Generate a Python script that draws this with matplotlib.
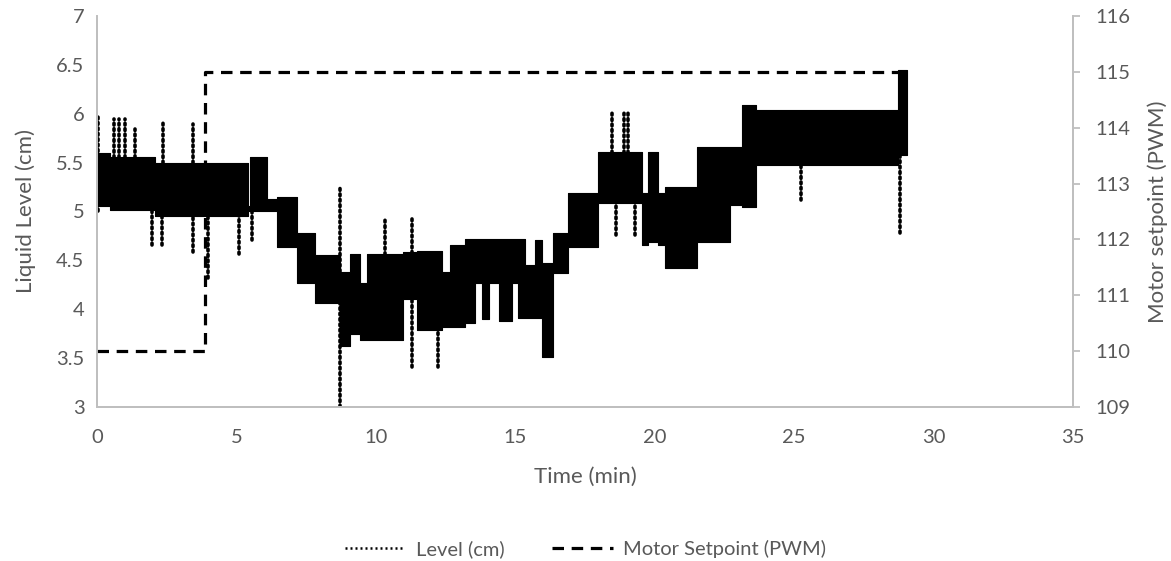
import numpy as np
import matplotlib
matplotlib.use('Agg')
from matplotlib import pyplot as plt
from matplotlib.lines import Line2D

# level band: start time of each segment, lower / upper edge of the band (cm)
level_t = [0.00, 0.47, 2.08, 5.40, 5.50, 6.10, 6.45, 7.17, 7.82, 8.71, 9.07, 9.43,
           9.68, 10.97, 11.47, 12.37, 12.66, 13.20, 13.55, 13.80, 14.05, 14.40, 14.90,
           15.10, 15.35, 15.71, 15.96, 16.35, 16.89, 17.97, 19.54, 19.77, 20.13, 20.37,
           21.52, 22.70, 23.12, 23.65, 28.72, 29.05]
level_lo = [5.06, 5.02, 4.95, 5.00, 5.00, 5.00, 4.64, 4.27, 4.06, 3.62, 3.75, 3.69,
            3.69, 4.10, 3.79, 3.82, 3.82, 3.86, 4.27, 3.90, 4.27, 3.88, 4.27,
            3.91, 3.91, 3.91, 3.51, 4.37, 4.64, 5.09, 4.66, 4.69, 4.66, 4.42,
            4.69, 5.07, 5.05, 5.48, 5.58, 5.58]
level_hi = [5.60, 5.56, 5.50, 5.06, 5.56, 5.13, 5.15, 4.78, 4.55, 4.38, 4.57, 4.27,
            4.57, 4.59, 4.60, 4.38, 4.66, 4.72, 4.72, 4.72, 4.72, 4.72, 4.72,
            4.72, 4.45, 4.71, 4.47, 4.78, 5.19, 5.61, 5.19, 5.61, 5.19, 5.25,
            5.66, 5.66, 6.09, 6.04, 6.45, 6.45]

# isolated level excursions (time, min value, max value)
spike_t = [0.03, 0.60, 0.80, 1.00, 1.36, 2.37, 3.44, 1.96, 2.32, 3.45, 3.98, 5.09,
           5.55, 8.71, 10.33, 11.30, 12.22, 18.46, 18.90, 19.04, 18.60, 19.30, 25.23, 28.80]
spike_lo = [5.00, 5.50, 5.50, 5.50, 5.50, 5.50, 5.50, 4.66, 4.66, 4.59, 4.32, 4.57,
            4.71, 3.00, 4.50, 3.41, 3.41, 5.60, 5.60, 5.60, 4.76, 4.76, 5.12, 4.78]
spike_hi = [6.00, 5.95, 5.95, 5.95, 5.84, 5.92, 5.90, 5.00, 5.00, 5.00, 5.00, 5.00,
            5.00, 5.24, 4.93, 4.95, 3.85, 6.03, 6.03, 6.03, 5.10, 5.10, 5.50, 5.60]

# motor setpoint steps
setpoint_t = [0.0, 3.87, 29.0]
setpoint = [110, 115, 115]

x_ticks = [0, 5, 10, 15, 20, 25, 30, 35]
y_ticks = [3, 3.5, 4, 4.5, 5, 5.5, 6, 6.5, 7]
y_tick_labels = ['3', '3.5', '4', '4.5', '5', '5.5', '6', '6.5', '7']
y2_ticks = [109, 110, 111, 112, 113, 114, 115, 116]

grey = '#595959'
axis_grey = '#BFBFBF'
plt.rcParams['font.family'] = ['Lato', 'DejaVu Sans']

fig = plt.figure(figsize=(11.71, 5.61), dpi=100)
ax = fig.add_axes([0.0828, 0.2745, 0.8335, 0.697])
ax2 = ax.twinx()

ax.fill_between(level_t, level_lo, level_hi, step='post', color='black', lw=0.8,
                edgecolor='black')
sp = ax.vlines(spike_t, spike_lo, spike_hi, colors='black', linewidth=2.6,
               linestyles=[(0, (0.5, 1.0))])
sp.set_capstyle('round')

ax2.plot(setpoint_t, setpoint, drawstyle='steps-post', color='black', lw=2.3,
         dashes=(3.6, 2.4))

ax.set_xlim(0, 35)
ax.set_ylim(3, 7)
ax2.set_ylim(109, 116)
ax.set_xticks(x_ticks)
ax.set_yticks(y_ticks)
ax.set_yticklabels(y_tick_labels)
ax2.set_yticks(y2_ticks)

for a in (ax, ax2):
    for s in a.spines.values():
        s.set_color(axis_grey)
        s.set_linewidth(1.3)
    a.spines['top'].set_visible(False)
ax.tick_params(axis='x', length=0, pad=16, colors=grey, labelsize=14.5)
ax.tick_params(axis='y', length=0, pad=9, colors=grey, labelsize=14.5)
ax2.tick_params(axis='y', length=5, width=1.3, color=axis_grey, pad=11,
                labelcolor=grey, labelsize=14.5)

ax.set_xlabel('Time (min)', color=grey, fontsize=16)
ax.xaxis.set_label_coords(0.5, -0.153)
ax.set_ylabel('Liquid Level (cm)', color=grey, fontsize=16)
ax.yaxis.set_label_coords(-0.062, 0.5)
ax2.set_ylabel('Motor setpoint (PWM)', color=grey, fontsize=16)
ax2.yaxis.set_label_coords(1.076, 0.5)

handles = [Line2D([], [], color='black', lw=1.8, linestyle=(0, (0.8, 1.2))),
           Line2D([], [], color='black', lw=2.3, dashes=(3.6, 2.4))]
leg = fig.legend(handles, ['Level (cm)', 'Motor Setpoint (PWM)'], loc='center',
                 bbox_to_anchor=(0.5, 0.022), ncol=2, frameon=False,
                 handlelength=3.0, columnspacing=2.4, handletextpad=0.5, fontsize=14.5)
for t in leg.get_texts():
    t.set_color(grey)

plt.savefig('out.png', dpi=100)
